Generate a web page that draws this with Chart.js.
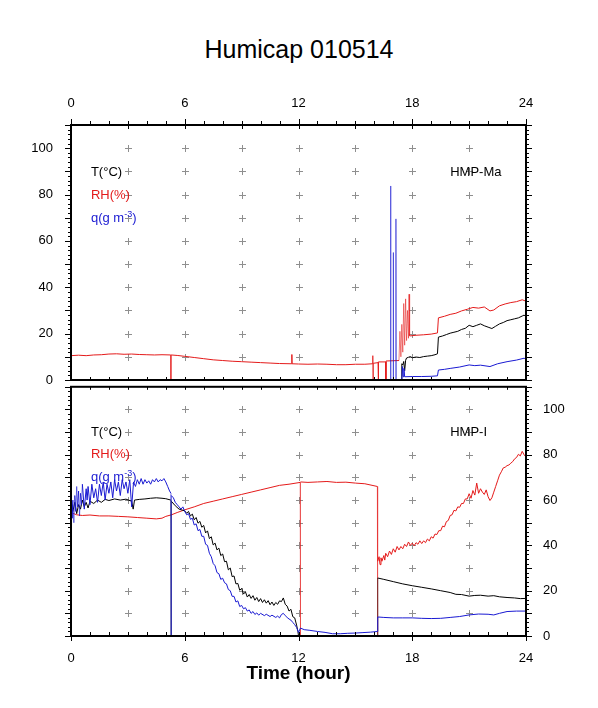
<!DOCTYPE html>
<html><head><meta charset="utf-8">
<script src="https://cdn.jsdelivr.net/npm/chart.js@4.4.1/dist/chart.umd.min.js"></script>
<style>
html,body{margin:0;padding:0;background:#fff;width:598px;height:708px;overflow:hidden;}
#title{position:absolute;left:0;top:35px;width:598px;text-align:center;font:25px "Liberation Sans",Arial,sans-serif;line-height:28px;color:#000;}
canvas{position:absolute;left:0;}
#c1{top:0}
#c2{top:370px}
</style></head><body>
<div id="title">Humicap 010514</div>
<canvas id="c1" width="598" height="400"></canvas>
<canvas id="c2" width="598" height="338"></canvas>
<script>
// ---------- data (hour, value) ----------
const xLabels = [0, 6, 12, 18, 24];
const yLabels = [0, 20, 40, 60, 80, 100];
const crossHours = [3, 6, 9, 12, 15, 18, 21];
const crossValues = [10, 20, 30, 40, 50, 60, 70, 80, 90, 100];
const seriesNames = ['T(°C)', 'RH(%)', 'q(g m', '-3', ')'];

// Panel 1: HMP-Ma
const maT = [[0,0],[17.42,0],[17.45,7],[17.5,6.5],[17.55,8],[17.6,4],[17.65,8.5],[17.7,9.5],[17.8,9.8],[17.9,10.1],[18.0,9.6],[18.2,9.9],[18.4,9.7],[18.6,10.1],[18.8,10.3],[19.0,10.5],[19.2,10.9],[19.33,11.3],[19.38,18.5],[19.6,19.0],[19.8,19.6],[20.0,20.2],[20.2,20.6],[20.4,21.0],[20.6,21.8],[20.8,22.3],[21.0,23.6],[21.2,23.0],[21.4,23.6],[21.6,24.2],[21.8,23.4],[22.0,22.8],[22.2,22.2],[22.4,23.2],[22.6,24.2],[22.8,24.8],[23.0,25.6],[23.2,26.0],[23.4,26.4],[23.6,26.8],[23.8,27.6],[23.9,28.0],[24,27.2]];
const maRH = [[0,10.5],[0.4,10.7],[0.8,10.5],[1.2,10.8],[1.6,10.9],[2.0,11.2],[2.4,11.3],[2.8,11.1],[3.2,11.2],[3.6,11.0],[4.0,10.9],[4.4,10.8],[4.8,10.9],[5.26,10.8],[5.27,0],[5.28,10.8],[5.6,10.6],[6.0,10.2],[6.5,9.7],[7.0,9.2],[7.5,8.7],[8.0,8.4],[8.5,8.1],[9.0,7.9],[9.5,7.7],[10.0,7.5],[10.5,7.3],[11.0,7.1],[11.64,7.0],[11.65,11.0],[11.66,7.0],[12.0,6.9],[12.5,6.8],[13.0,6.9],[13.5,6.8],[14.0,6.6],[14.5,6.6],[15.0,6.8],[15.5,6.8],[15.9,7.0],[15.92,10.5],[15.93,0],[15.94,7.2],[16.2,7.5],[16.21,0],[16.22,7.8],[16.6,7.8],[16.61,0],[16.62,8.2],[17.3,8.4],[17.35,21],[17.4,10],[17.45,24],[17.5,12],[17.55,33],[17.6,15],[17.65,35],[17.7,17],[17.75,30],[17.8,18],[17.83,37],[17.86,19],[18.2,19.3],[18.6,19.5],[19.0,19.8],[19.33,20.3],[19.38,26.8],[19.7,27.5],[20.0,28.3],[20.3,28.8],[20.6,29.8],[20.9,30.5],[21.2,31.3],[21.5,31.0],[21.8,31.5],[22.1,29.8],[22.3,30.2],[22.6,32.0],[22.9,32.8],[23.2,33.4],[23.5,33.8],[23.8,34.6],[24.0,34.0]];
const maQ = [[0,0],[16.85,0],[16.86,83.7],[16.87,0],[16.99,0],[17.0,55],[17.01,0],[17.13,0],[17.14,69.5],[17.15,0],[17.45,0],[17.48,5.8],[17.52,1.4],[17.56,5.0],[17.6,1.4],[18.0,1.5],[18.5,1.5],[19.0,1.6],[19.33,1.8],[19.38,4.3],[19.7,4.6],[20.0,5.0],[20.5,5.6],[21.0,6.5],[21.3,6.2],[21.6,6.4],[22.1,5.8],[22.5,7.0],[23.0,7.9],[23.5,8.6],[23.9,9.4],[24,9.0]];

// Panel 2: HMP-I
const iT = [[0,57],[0.1,55],[0.2,59],[0.3,54],[0.4,58],[0.5,56],[0.6,60],[0.7,57],[0.8,59],[0.9,56.5],[1.0,59.5],[1.2,58.5],[1.4,60],[1.6,59],[1.8,60.3],[2.0,59.8],[2.3,60.5],[2.6,60.0],[2.9,60.4],[3.2,59.5],[3.28,56],[3.35,60],[3.6,60.3],[3.9,60.5],[4.2,60.8],[4.5,61.0],[4.8,60.8],[5.0,60.6],[5.27,60.0],[5.28,0],[5.29,59.5],[5.5,57.5],[5.7,56.0],[5.9,55.5],[6.0,55.2],[6.1,54.2],[6.2,55.0],[6.3,53.0],[6.4,53.8],[6.5,51.3],[6.6,52.3],[6.7,49.8],[6.8,50.6],[6.9,48.0],[7.0,48.8],[7.1,45.5],[7.2,46.4],[7.3,43.0],[7.4,43.8],[7.5,40.2],[7.6,41.0],[7.7,38.0],[7.8,38.8],[7.9,35.5],[8.0,36.2],[8.1,32.8],[8.2,33.0],[8.3,29.2],[8.4,30.0],[8.5,26.2],[8.6,26.5],[8.7,23.0],[8.8,23.2],[8.9,20.2],[9.0,21.0],[9.1,18.5],[9.2,19.5],[9.3,17.2],[9.4,18.3],[9.5,16.6],[9.6,17.8],[9.7,15.8],[9.8,17.0],[9.9,15.2],[10.0,16.5],[10.1,14.8],[10.2,16.0],[10.3,14.5],[10.4,15.6],[10.5,13.8],[10.6,15.0],[10.7,13.5],[10.8,14.8],[10.9,14.0],[11.0,15.5],[11.1,15.2],[11.2,16.8],[11.3,14.0],[11.4,13.2],[11.5,11.0],[11.6,11.8],[11.7,8.5],[11.8,8.0],[11.9,4.8],[11.97,2],[12.0,0],[16.17,0],[16.18,25.6],[16.5,25.0],[17,24],[17.5,23.0],[18,22.2],[18.5,21.5],[19,20.8],[19.5,20.0],[20,19.2],[20.3,18.4],[20.6,18.3],[21.0,17.6],[21.3,17.9],[21.6,18.0],[22.0,17.6],[22.3,17.8],[22.6,17.3],[23.0,17.0],[23.4,16.8],[23.7,16.5],[24,16.6]];
const iRH = [[0,54.5],[0.3,53.5],[0.6,53.2],[1.0,53.4],[1.5,53.0],[2.0,53.0],[2.5,52.8],[3.0,52.6],[3.5,52.3],[4.0,52.0],[4.5,51.7],[4.8,52.0],[5.0,52.8],[5.3,53.5],[5.6,54.5],[6.0,55.7],[6.5,57.0],[7.0,58.5],[7.5,59.5],[8.0,60.5],[8.5,61.5],[9.0,62.5],[9.5,63.5],[10.0,64.5],[10.5,65.5],[11.0,66.5],[11.5,67.0],[12.09,67.8],[12.1,0],[12.11,68.0],[12.5,67.8],[13.0,68.0],[13.5,68.2],[14.0,67.8],[14.5,67.9],[15.0,67.5],[15.5,67.2],[16.16,66.0],[16.17,0],[16.18,33],[16.25,35],[16.3,31.5],[16.35,34.5],[16.4,33],[16.5,35.5],[16.55,33.5],[16.6,36.5],[16.7,35],[16.8,37.5],[16.9,36],[17.0,38.5],[17.1,37],[17.2,39.5],[17.3,38],[17.4,39.5],[17.5,38.5],[17.6,40.5],[17.7,39.5],[17.8,41.5],[17.9,40],[18.0,41],[18.1,39.8],[18.2,41.2],[18.3,40.5],[18.4,42],[18.5,40.8],[18.6,42],[18.7,41.2],[18.8,42.8],[18.9,42],[19.0,43.8],[19.1,43.2],[19.2,45],[19.3,44.8],[19.4,46.5],[19.5,46.5],[19.6,48.5],[19.7,48.2],[19.8,50.5],[19.9,51],[20.0,53.2],[20.1,53.5],[20.2,55.5],[20.3,55.2],[20.4,57],[20.5,56.8],[20.6,58.5],[20.7,58.5],[20.8,60.5],[20.9,60.5],[21.0,62.8],[21.1,60.8],[21.2,64.2],[21.3,62.2],[21.4,67.5],[21.5,63],[21.6,65],[21.7,63.5],[21.8,62.5],[21.9,64.5],[22.0,61.5],[22.1,59.8],[22.2,61],[22.3,63.5],[22.4,66],[22.5,68.5],[22.6,71],[22.7,72.5],[22.8,74.2],[22.9,74.5],[23.0,75.2],[23.1,75.5],[23.2,76.3],[23.3,77],[23.4,78.2],[23.5,78.8],[23.6,80.2],[23.7,79.5],[23.8,81.5],[23.9,80],[24,79]];
const iQ = [[0,58],[0.05,52],[0.1,60],[0.15,50],[0.2,62],[0.25,55],[0.3,66],[0.35,57],[0.4,64],[0.45,53],[0.5,63],[0.55,58],[0.6,67],[0.7,56],[0.8,65],[0.85,60],[0.9,66],[1.0,58],[1.1,67],[1.2,61],[1.3,65],[1.4,59],[1.5,67],[1.6,62],[1.7,68],[1.8,60],[1.9,67],[2.0,63],[2.1,68],[2.2,61],[2.3,69],[2.4,64],[2.5,68],[2.6,62],[2.7,69],[2.8,65],[2.9,68],[3.0,63],[3.1,69],[3.2,57],[3.3,68],[3.4,66],[3.5,69],[3.6,67],[3.7,69.5],[3.8,67],[3.9,69],[4.0,67.5],[4.1,68.5],[4.2,67],[4.3,69],[4.4,68],[4.5,69.5],[4.6,68],[4.7,69],[4.8,68.5],[4.9,69.5],[5.0,68],[5.1,66],[5.2,64],[5.27,63],[5.28,0],[5.29,62],[5.4,61],[5.5,59],[5.6,58],[5.7,57],[5.8,56],[5.9,57],[6.0,55],[6.1,53.5],[6.2,54],[6.3,51.5],[6.4,52],[6.5,49],[6.6,49.5],[6.7,46.5],[6.8,47],[6.9,44],[7.0,44],[7.1,40.5],[7.2,40],[7.3,36.5],[7.4,35],[7.5,32],[7.6,31],[7.7,28],[7.8,27.5],[7.9,25],[8.0,25.5],[8.1,23.5],[8.2,23],[8.3,20.5],[8.4,20],[8.5,17.5],[8.6,17.5],[8.7,15],[8.8,15.5],[8.9,13],[9.0,13.5],[9.1,12],[9.2,12.5],[9.3,11],[9.4,11.5],[9.5,10],[9.6,10.8],[9.7,9.5],[9.8,10.2],[9.9,9.2],[10.0,10],[10.2,9],[10.3,9.6],[10.5,8.6],[10.6,9.2],[10.8,8.2],[10.9,8.8],[11.0,8.0],[11.1,9.5],[11.2,10.0],[11.3,9.0],[11.4,8.2],[11.5,7.5],[11.6,7.0],[11.7,6.0],[11.8,5.0],[11.9,3.8],[12.0,1.5],[12.1,3.5],[12.3,2.8],[12.6,2.5],[13.0,2.0],[13.4,1.6],[13.8,1.0],[14.2,1.0],[14.6,1.2],[15.0,1.3],[15.4,1.5],[15.8,1.7],[16.17,2.0],[16.18,8.4],[16.5,8.2],[17,8.0],[17.5,8.0],[18,8.0],[18.5,7.8],[19,7.7],[19.5,7.8],[20,8.2],[20.5,8.6],[21,9.3],[21.5,9.7],[22,9.6],[22.3,9.3],[22.6,10.0],[23,10.8],[23.5,11.0],[24,11.0]];

// ---------- styling ----------
const FONT = '"Liberation Sans", Arial, Helvetica, sans-serif';
const C_T = '#000000', C_RH = '#e41a1a', C_Q = '#1a1ad2';
const C_T_V = 'rgba(0,0,0,0.55)', C_RH_V = 'rgba(228,26,26,0.55)', C_Q_V = 'rgba(26,26,210,0.6)';
Chart.defaults.font.family = FONT;
Chart.defaults.color = '#000';

const toPts = arr => arr.map(p => ({x: p[0], y: p[1]}));
// near-vertical jumps (data dropouts) are drawn lighter, as in the original plot
const ds = (label, arr, color, vColor) => ({label, data: toPts(arr), borderColor: color, borderWidth: 1, pointRadius: 0, tension: 0, fill: false,
  segment: {borderColor: c => (Math.abs(c.p1.x - c.p0.x) < 1.5 && Math.abs(c.p1.y - c.p0.y) > 20) ? vColor : undefined}});

const panelPlugin = {
  id: 'panelFrame',
  beforeDatasetsDraw(chart, args, o) {
    const {ctx, scales} = chart; const xs = scales.x, ys = scales.y;
    ctx.save(); ctx.strokeStyle = '#8f8f8f'; ctx.lineWidth = 1;
    ctx.beginPath();
    for (const h of crossHours) for (const v of crossValues) {
      const px = Math.round(xs.getPixelForValue(h)) + 0.5, py = Math.round(ys.getPixelForValue(v)) + 0.5;
      ctx.moveTo(px - 3.5, py); ctx.lineTo(px + 3.5, py);
      ctx.moveTo(px, py - 3.5); ctx.lineTo(px, py + 3.5);
    }
    ctx.stroke(); ctx.restore();
  },
  afterDraw(chart, args, o) {
    const {ctx, chartArea: a, scales} = chart; const xs = scales.x, ys = scales.y;
    ctx.save();
    ctx.strokeStyle = '#000'; ctx.lineWidth = 1;
    ctx.beginPath();
    for (let v = 0; v <= 110; v += 2) {
      const py = Math.round(ys.getPixelForValue(v)) + 0.5;
      const len = v % 10 === 0 ? 6 : 3;
      ctx.moveTo(a.left - len, py); ctx.lineTo(a.left, py);
      ctx.moveTo(a.right, py); ctx.lineTo(a.right + len, py);
    }
    for (let h = 0; h <= 24; h++) {
      const px = Math.round(xs.getPixelForValue(h)) + 0.5;
      if (o.panel === 'top') {
        const up = h % 6 === 0 ? 6 : 4;
        ctx.moveTo(px, a.top - up); ctx.lineTo(px, a.top);
        if (h % 3 === 0) { ctx.moveTo(px, a.top); ctx.lineTo(px, a.top + 4); }
        ctx.moveTo(px, a.bottom); ctx.lineTo(px, a.bottom - 3);
      } else {
        ctx.moveTo(px, a.top); ctx.lineTo(px, a.top + 3);
        ctx.moveTo(px, a.bottom); ctx.lineTo(px, a.bottom - 4);
        if (h % 6 === 0) { ctx.moveTo(px, a.bottom); ctx.lineTo(px, a.bottom + 5); }
      }
    }
    ctx.stroke();
    ctx.lineWidth = 2;
    ctx.strokeRect(a.left, a.top, a.right - a.left, a.bottom - a.top);

    // legend texts and panel label
    ctx.font = '13px ' + FONT; ctx.textBaseline = 'middle'; ctx.textAlign = 'left';
    const lx = xs.getPixelForValue(1.05);
    ctx.fillStyle = C_T; ctx.fillText(seriesNames[0], lx, ys.getPixelForValue(o.legendY[0]));
    ctx.fillStyle = C_RH; ctx.fillText(seriesNames[1], lx, ys.getPixelForValue(o.legendY[1]));
    ctx.fillStyle = C_Q;
    const qy = ys.getPixelForValue(o.legendY[2]);
    ctx.fillText(seriesNames[2], lx, qy);
    let w = ctx.measureText(seriesNames[2]).width;
    ctx.font = '9px ' + FONT; ctx.fillText(seriesNames[3], lx + w, qy - 4);
    const w2 = ctx.measureText(seriesNames[3]).width;
    ctx.font = '13px ' + FONT; ctx.fillText(seriesNames[4], lx + w + w2, qy);
    ctx.fillStyle = '#000';
    ctx.fillText(o.label, xs.getPixelForValue(20.0), ys.getPixelForValue(o.legendY[0]));
    ctx.restore();
  }
};

const tickFont = {family: FONT, size: 13};
const fixTicks = vals => s => { s.ticks = vals.map(v => ({value: v})); };

new Chart(document.getElementById('c1'), {
  type: 'line',
  data: {datasets: [ds('q', maQ, C_Q, C_Q_V), ds('T', maT, C_T, C_T_V), ds('RH', maRH, C_RH, C_RH_V)]},
  options: {
    responsive: false, animation: false, events: [],
    layout: {padding: {left: 0, right: 72, top: 0, bottom: 20}},
    plugins: {legend: {display: false}, tooltip: {enabled: false},
      panelFrame: {panel: 'top', label: 'HMP-Ma', legendY: [89.5, 79.5, 69.5]}},
    scales: {
      x: {type: 'linear', position: 'top', min: 0, max: 24,
        afterBuildTicks: fixTicks(xLabels),
        ticks: {font: tickFont, color: '#000', padding: 6, maxRotation: 0, autoSkip: false},
        grid: {display: false}, border: {display: false},
        afterFit: s => { s.height = 125; }},
      y: {type: 'linear', position: 'left', min: 0, max: 110,
        afterBuildTicks: fixTicks(yLabels),
        ticks: {font: tickFont, color: '#000', padding: 10, autoSkip: false},
        grid: {display: false}, border: {display: false},
        afterFit: s => { s.width = 71; }}
    }
  },
  plugins: [panelPlugin]
});

new Chart(document.getElementById('c2'), {
  type: 'line',
  data: {datasets: [ds('q', iQ, C_Q, C_Q_V), ds('T', iT, C_T, C_T_V), ds('RH', iRH, C_RH, C_RH_V)]},
  options: {
    responsive: false, animation: false, events: [],
    layout: {padding: {left: 71, right: 0, top: 11, bottom: 0}},
    plugins: {legend: {display: false}, tooltip: {enabled: false},
      panelFrame: {panel: 'bottom', label: 'HMP-I', legendY: [90, 80, 70]}},
    scales: {
      x: {type: 'linear', position: 'bottom', min: 0, max: 24,
        afterBuildTicks: fixTicks(xLabels),
        ticks: {font: tickFont, color: '#000', padding: 7, maxRotation: 0, autoSkip: false},
        grid: {display: false}, border: {display: false},
        title: {display: true, text: 'Time (hour)', color: '#000', font: {family: FONT, size: 19, weight: 'bold'}, padding: {top: 0, bottom: 23}},
        afterFit: s => { s.height = 72; }},
      y: {type: 'linear', position: 'right', min: 0, max: 110,
        afterBuildTicks: fixTicks(yLabels),
        ticks: {font: tickFont, color: '#000', padding: 9, autoSkip: false},
        grid: {display: false}, border: {display: false},
        afterFit: s => { s.width = 72; }}
    }
  },
  plugins: [panelPlugin]
});
</script>
</body></html>
